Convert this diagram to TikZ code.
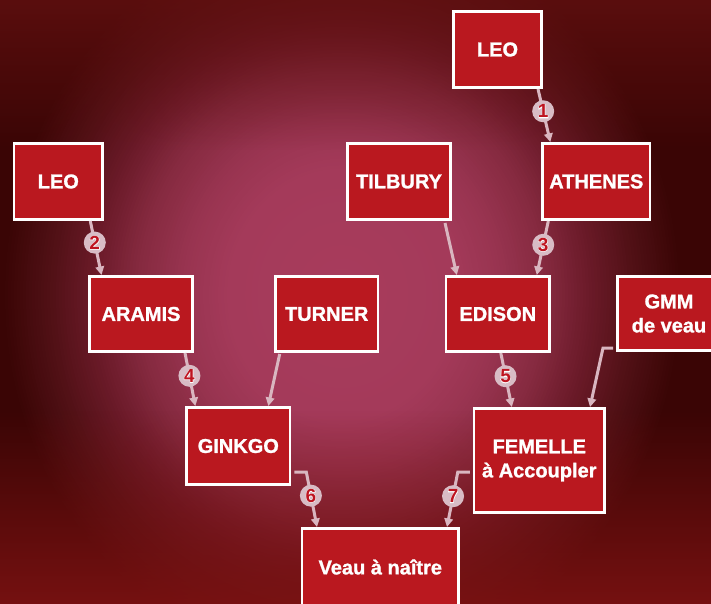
\documentclass[tikz,border=0pt]{standalone}
\usepackage{fontspec}
\setmainfont{Liberation Sans}
\newfontfamily\boxfont{Liberation Sans Bold}[FakeBold=1.2]
\newfontfamily\numfont{Liberation Sans Bold}
\newfontfamily\numfat{Liberation Sans Bold}[FakeBold=5]
\usetikzlibrary{calc,arrows.meta,fadings}
\definecolor{boxred}{HTML}{BA181F}
\definecolor{conncol}{HTML}{D9B6C0}
\definecolor{badgecol}{HTML}{D8BCC5}
\definecolor{numred}{HTML}{BE1420}
\definecolor{bga}{HTML}{A83C5C}
\definecolor{bgb}{HTML}{A43A5A}
\definecolor{bgc}{HTML}{983450}
\definecolor{bgd}{HTML}{862A40}
\definecolor{bge}{HTML}{6A1A28}
\definecolor{bgf}{HTML}{501015}
\definecolor{bgg}{HTML}{3A0505}
\definecolor{bgtop}{HTML}{621010}
\definecolor{bgbottom}{HTML}{7C1212}
\tikzset{
  box/.style={draw=white, line width=2.6pt, fill=boxred, text=white,
    font=\boxfont\fontsize{20}{24}\selectfont, align=center, inner sep=0pt},
  conn/.style={draw=conncol, line width=3pt, line join=miter,
    -{Triangle[length=8.5pt,width=8.5pt]}},
  badge/.style={circle, fill=badgecol, minimum size=22pt, inner sep=0pt},
  numback/.style={inner sep=0pt, text=white, font=\numfat\fontsize{19}{19}\selectfont},
  numfront/.style={inner sep=0pt, text=numred, font=\numfont\fontsize{19}{19}\selectfont},
}
\begin{document}
\begin{tikzpicture}[x=1pt,y=-1pt]
\useasboundingbox (0,0) rectangle (711,604);
\begin{scope}
\clip (0,0) rectangle (711,604);
\fill[bgg] (0,0) rectangle (711,604);
\coordinate (bgcenter) at (342,295);
\foreach \ra/\rb/\ca/\cb in {295/340/bgf/bgg, 250/295/bge/bgf, 205/250/bgd/bge,
    160/205/bgc/bgd, 115/160/bgb/bgc, 0/115/bga/bgb}{
  \pgfmathtruncatemacro\nsteps{max(1,round((\rb-\ra)/3))}
  \foreach \i in {0,...,\nsteps}{
    \pgfmathsetmacro\rr{\rb-\i*(\rb-\ra)/\nsteps+0.01}
    \pgfmathsetmacro\pp{100*(\rr-0.01-\ra)/(\rb-\ra)}
    \fill[\cb!\pp!\ca] (bgcenter) ellipse[x radius=\rr, y radius=1.1*\rr];
  }
}
\fill[bgtop, path fading=south, fill opacity=0.8] (0,0) rectangle (711,150);
\fill[bgbottom, path fading=north, fill opacity=0.9] (0,410) rectangle (711,604);
\end{scope}

\node[box, minimum width=88.4pt, minimum height=76.4pt] (leoA) at (497.5,49.5) {LEO};
\node[box, minimum width=107.4pt, minimum height=76.4pt] (athenes) at (596.3,181.5) {ATHENES};
\node[box, minimum width=103.4pt, minimum height=76.4pt] (tilbury) at (399,181.5) {TILBURY};
\node[box, minimum width=88.4pt, minimum height=76.4pt] (leoB) at (58.3,181.5) {LEO};
\node[box, minimum width=103.4pt, minimum height=75.4pt] (aramis) at (141,314) {ARAMIS};
\node[box, minimum width=102.4pt, minimum height=75.4pt] (turner) at (326.7,314) {TURNER};
\node[box, minimum width=103.4pt, minimum height=75.4pt] (edison) at (497.8,314) {EDISON};
\node[box, minimum width=103.4pt, minimum height=74.4pt] (gmm) at (669,313.5) {GMM\\de veau};
\node[box, minimum width=103.4pt, minimum height=77.4pt] (ginkgo) at (238.3,446) {GINKGO};
\node[box, minimum width=130.4pt, minimum height=104.4pt] (femelle) at (539.3,460.5) {FEMELLE\\à Accoupler};
\node[box, minimum width=156.4pt, minimum height=77.4pt] (veau) at (380.3,567) {Veau à naître};

\draw[conn] ($(leoA.south)+(40.5,0)$) -- node[badge,pos=.42](b1){} ($(athenes.north)+(-46,0)$);
\draw[conn] ($(leoB.south)+(32,0)$) -- node[badge,pos=.40](b2){} ($(aramis.north)+(-39.5,0)$);
\draw[conn] ($(athenes.south)+(-48,0)$) -- node[badge,pos=.44](b3){} ($(edison.north)+(39,0)$);
\draw[conn] ($(tilbury.south)+(46,2)$) -- ($(edison.north)+(-41,0)$);
\draw[conn] ($(aramis.south)+(44,0)$) -- node[badge,pos=.43](b4){} ($(ginkgo.north)+(-43,0)$);
\draw[conn] ($(turner.south)+(-47,1)$) -- ($(ginkgo.north)+(30,0)$);
\draw[conn] ($(edison.south)+(3,0)$) -- node[badge,pos=.43](b5){} ($(femelle.north)+(-27.5,0)$);
\draw[conn] ($(gmm.west)+(-3,34.5)$) -- ++(-10,0) -- ($(femelle.north)+(50.7,0)$);
\draw[conn] ($(ginkgo.east)+(3,26)$) -- ++(12,0) -- node[badge,pos=.43](b6){} ($(veau.north)+(-63.3,0)$);
\draw[conn] ($(femelle.west)+(-3,11.5)$) -- ++(-12,0) -- node[badge,pos=.44](b7){} ($(veau.north)+(66.7,0)$);

\foreach \n in {1,...,7}{
  \node[numback] at (b\n) {\n};
  \node[numfront] at (b\n) {\n};
}
\end{tikzpicture}
\end{document}
